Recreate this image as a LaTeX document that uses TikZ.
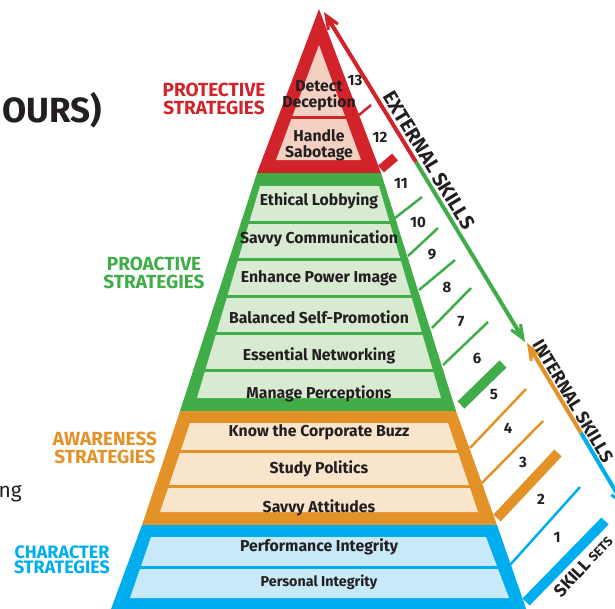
\documentclass[tikz,border=0pt]{standalone}
\usepackage{fontspec}
\setmainfont{Fira Sans}
\usetikzlibrary{arrows.meta}
\definecolor{PolRed}{RGB}{210,35,42}
\definecolor{PolRedLight}{RGB}{244,208,195}
\definecolor{PolGreen}{RGB}{64,173,73}
\definecolor{PolGreenLight}{RGB}{217,234,211}
\definecolor{PolOrange}{RGB}{227,146,40}
\definecolor{PolOrangeLight}{RGB}{249,228,204}
\definecolor{PolBlue}{RGB}{0,174,239}
\definecolor{PolBlueLight}{RGB}{199,233,248}
\definecolor{PolText}{RGB}{35,31,32}

\begin{document}
\begin{tikzpicture}[
    x=1pt, y=-1pt,
    tierlabel/.style={font=\bfseries\fontsize{15.8}{16}\selectfont, text=PolText, align=center, inner sep=0pt},
    sidelabel/.style={font=\bfseries\fontsize{19}{18}\selectfont, align=center, inner sep=0pt},
    skillno/.style={font=\bfseries\fontsize{15}{15}\selectfont, text=PolText, inner sep=0pt},
    skilltick/.style={line width=2.5pt},
    skillbar/.style={line width=10pt},
    skillarrow/.style={line width=4pt, -{Stealth[length=32pt, width=26pt, inset=21pt]}},
    axislabel/.style={font=\bfseries\fontsize{20}{20}\selectfont, text=PolText, inner sep=0pt}
]
\useasboundingbox (0,0) rectangle (615,608);
\clip (0,0) rectangle (615,608);

\fill[PolRed] (319,9) -- (381,173) -- (257,173) -- cycle;
\fill[PolRedLight] (319,45) -- (361,160) -- (276,160) -- cycle;
\draw[PolRed, line width=3pt] (285,117) -- (353,117);

\fill[PolGreen] (257,173) -- (381,173) -- (456,411) -- (180,411) -- cycle;
\fill[PolGreenLight] (260,186) -- (379,186) -- (441,398) -- (197,398) -- cycle;
\begin{scope}
  \clip (257,173) -- (381,173) -- (456,411) -- (180,411) -- cycle;
  \foreach \y in {222,259,296,333,370}
    \draw[PolGreen, line width=3pt] (150,\y) -- (480,\y);
\end{scope}

\fill[PolOrange] (180,411) -- (456,411) -- (497,525) -- (142,525) -- cycle;
\fill[PolOrangeLight] (190,423) -- (448,423) -- (478,512) -- (160,512) -- cycle;
\begin{scope}
  \clip (180,411) -- (456,411) -- (497,525) -- (142,525) -- cycle;
  \foreach \y in {451,486}
    \draw[PolOrange, line width=3pt] (120,\y) -- (520,\y);
\end{scope}

\fill[PolBlue] (142,525) -- (497,525) -- (530,620) -- (107,620) -- cycle;
\fill[PolBlueLight] (151,537) -- (486,537) -- (509,598) -- (130,598) -- cycle;
\begin{scope}
  \clip (142,525) -- (497,525) -- (530,620) -- (107,620) -- cycle;
  \draw[PolBlue, line width=3pt] (100,567) -- (540,567);
\end{scope}

\node[tierlabel] (detect) at (319,96) {Detect\\Deception};
\node[tierlabel] (handle) at (319,145) {Handle\\Sabotage};
\node[tierlabel] (lobbying) at (319,201) {Ethical Lobbying};
\node[tierlabel] (communication) at (319,239) {Savvy Communication};
\node[tierlabel] (powerimage) at (319,278) {Enhance Power Image};
\node[tierlabel] (promotion) at (319,317) {Balanced Self-Promotion};
\node[tierlabel] (networking) at (319,356) {Essential Networking};
\node[tierlabel] (perceptions) at (319,394) {Manage Perceptions};
\node[tierlabel] (buzz) at (319,432) {Know the Corporate Buzz};
\node[tierlabel] (politics) at (319,469) {Study Politics};
\node[tierlabel] (attitudes) at (319,508) {Savvy Attitudes};
\node[tierlabel] (performance) at (319,547) {Performance Integrity};
\node[tierlabel, font=\bfseries\fontsize{14.3}{15}\selectfont] (personal) at (319,582) {Personal Integrity};

\draw[PolRed, skilltick] (359,115) -- (371,105);
\draw[PolRed, skillbar, line width=9pt] (381,169) -- (395,157);
\foreach \xa/\ya/\xb/\yb in {395/218/422/197, 408/256/438/228, 419/290/455/260, 432/328/471/288, 443/365/488/322}
  \draw[PolGreen, skilltick] (\xa,\ya) -- (\xb,\yb);
\draw[PolGreen, skillbar] (461,405) -- (503,364);
\foreach \xa/\ya/\xb/\yb in {470/448/526/389, 482/483/543/421}
  \draw[PolOrange, skilltick] (\xa,\ya) -- (\xb,\yb);
\draw[PolOrange, skillbar] (497,518) -- (558,453);
\draw[PolBlue, skilltick] (510,565) -- (580,487);
\draw[PolBlue, skillbar] (526,602) -- (605,521);

\foreach \n/\x/\y in {13/355/80, 12/380/137, 11/401/183, 10/418/222, 9/432/255, 8/447/287, 7/461/322, 6/477/358, 5/494/395, 4/508/428, 3/523/462, 2/541/499, 1/557/537}
  \node[skillno] (no\n) at (\x,\y) {\n};

\coordinate (extTop) at (324,12);
\coordinate (extMid) at (416,162);
\coordinate (extEnd) at (525,342);
\draw[skillarrow, PolRed] (extMid) -- (extTop);
\draw[skillarrow, PolGreen] (extMid) -- (extEnd);
\coordinate (intTop) at (527,343);
\coordinate (intMid) at (581,433);
\coordinate (intEnd) at (625,507);
\draw[skillarrow, PolOrange] (intMid) -- (intTop);
\draw[skillarrow, PolBlue] (intMid) -- (intEnd);

\node[axislabel, rotate=-58.7] (external) at (429,160) {EXTERNAL SKILLS};
\node[axislabel, font=\bfseries\fontsize{18}{18}\selectfont, rotate=-59] (internal) at (573,401) {INTERNAL SKILLS};
\node[axislabel, font=\bfseries\fontsize{17.5}{17.5}\selectfont, rotate=47] (skillsets) at (583,566) {SKILL {\fontsize{13}{13}\selectfont SETS}};

\node[sidelabel, text=PolRed] (protective) at (214,99) {PROTECTIVE\\STRATEGIES};
\node[sidelabel, text=PolGreen] (proactive) at (154,273) {PROACTIVE\\STRATEGIES};
\node[sidelabel, text=PolOrange] (awareness) at (105,448) {AWARENESS\\STRATEGIES};
\node[sidelabel, font=\bfseries\fontsize{18}{15.5}\selectfont, text=PolBlue] (character) at (62,560) {CHARACTER\\STRATEGIES};

\node[font=\bfseries\fontsize{35}{35}\selectfont, text=PolText, anchor=east, inner sep=0pt] (heading) at (102,110) {OURS)};
\node[font=\fontsize{21}{21}\selectfont, text=PolText, anchor=base east, inner sep=0pt] (fragment) at (22,497) {ng};
\end{tikzpicture}
\end{document}
